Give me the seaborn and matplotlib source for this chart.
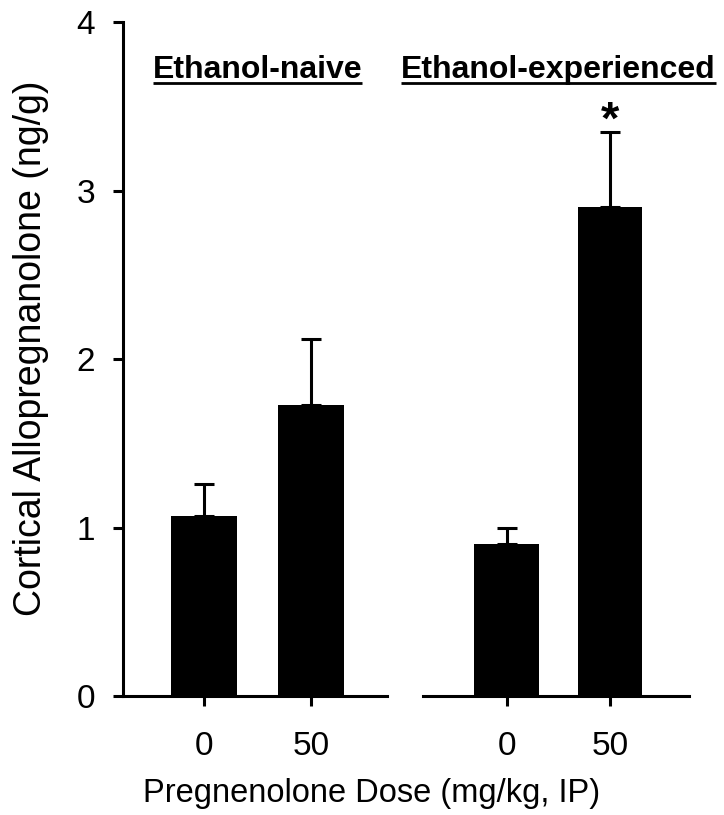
'''
Cortical allopregnanolone after a pregnenolone dose, for
ethanol-naive and ethanol-experienced animals. Bars are group
means with one-sided (upper) error bars.
'''

import matplotlib.pyplot as plt
import seaborn as sns

# values
doses = ['0', '50']
groups = ['Ethanol-naive', 'Ethanol-experienced']
naive_means = [1.07, 1.73]
naive_errs = [0.19, 0.39]
exp_means = [0.90, 2.90]
exp_errs = [0.10, 0.445]
signif = ['', '*']

sns.set_theme(style='ticks', rc={'text.color': 'black',
                                 'axes.edgecolor': 'black',
                                 'axes.labelcolor': 'black',
                                 'xtick.color': 'black',
                                 'ytick.color': 'black'})
plt.rcParams['font.family'] = ['Liberation Sans', 'DejaVu Sans']


def draw_group(ax, means, errs, title, marks=None):
    '''
    Draws one group of black bars with upper error bars and an
    underlined bold title above them.
    '''
    sns.barplot(x=doses, y=means, ax=ax, color='black', width=0.62,
                saturation=1, edgecolor='black', linewidth=0)
    ax.errorbar([0, 1], means, yerr=[[0, 0], errs], fmt='none',
                ecolor='black', elinewidth=2.2, capsize=7, capthick=2.2)
    ax.set_ylim(0, 4)
    t = ax.text(0.5, 3.67, title, ha='center', va='baseline',
                fontsize=23, fontweight='bold', clip_on=False)
    if marks:
        for i, m in enumerate(marks):
            if m:
                ax.text(i, means[i] + errs[i] + 0.065, m, ha='center',
                        va='center', fontsize=34, fontweight='bold')
    return t


def underline(fig, ax, t):
    '''Puts a line right under the title text.'''
    fig.canvas.draw()
    bb = t.get_window_extent().transformed(ax.transData.inverted())
    ax.plot([bb.x0, bb.x1], [3.64, 3.64], color='black', lw=2,
            clip_on=False, solid_capstyle='butt')


fig = plt.figure(figsize=(7.24, 8.15), dpi=100)
ax1 = fig.add_axes([0.1699, 0.1460, 0.3646, 0.8270])
ax2 = fig.add_axes([0.5843, 0.1460, 0.3674, 0.8270])

t1 = draw_group(ax1, naive_means, naive_errs, groups[0])
t2 = draw_group(ax2, exp_means, exp_errs, groups[1], signif)
ax1.set_xlim(-0.757, 1.710)
ax2.set_xlim(-0.807, 1.763)

for ax in [ax1, ax2]:
    sns.despine(ax=ax)
    ax.spines['bottom'].set_linewidth(2.2)
    ax.spines['left'].set_linewidth(2.2)
    ax.tick_params(axis='x', length=7, width=2.2, pad=18, labelsize=24,
                   color='black', labelcolor='black')
    ax.set_xlabel('')
    ax.set_ylabel('')

ax1.set_yticks([0, 1, 2, 3, 4])
ax1.tick_params(axis='y', length=7, width=2.2, pad=13, labelsize=24,
                color='black', labelcolor='black')
ax2.spines['left'].set_visible(False)
ax2.set_yticks([])

underline(fig, ax1, t1)
underline(fig, ax2, t2)

fig.text(372 / 724, 1 - 802 / 815, 'Pregnenolone Dose (mg/kg, IP)',
         ha='center', va='baseline', fontsize=23.5)
fig.text(31 / 724, 1 - 348 / 815, 'Cortical Allopregnanolone (ng/g)',
         ha='center', va='center', rotation=90, fontsize=27)

fig.savefig('out.png', dpi=100)
